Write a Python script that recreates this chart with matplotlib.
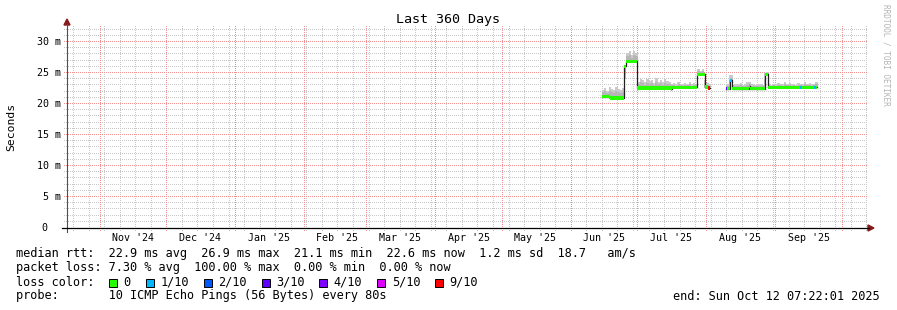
import numpy as np
import pandas as pd
import matplotlib
matplotlib.use("Agg")
import matplotlib.pyplot as plt
import matplotlib.dates as mdates
import matplotlib.transforms as mtrans
from matplotlib.lines import Line2D
from matplotlib.patches import Polygon, Rectangle

W, H = 897, 310
FONT = "DejaVu Sans Mono"

end = pd.Timestamp("2025-10-12 07:22:01")
start = end - pd.Timedelta(days=360)

# median rtt in ms, one value per segment (holds until next start), nan = no data
seg_start = ["2025-06-15 06:00", "2025-06-18 12:00", "2025-06-25 02:00", "2025-06-26 00:00",
             "2025-07-01 00:00", "2025-07-16 00:00", "2025-07-16 12:00", "2025-07-27 20:00",
             "2025-07-31 05:00", "2025-08-01 20:00", "2025-08-02 16:00", "2025-08-09 16:00",
             "2025-08-10 04:00", "2025-08-11 21:00", "2025-08-12 14:00", "2025-08-20 06:00",
             "2025-08-20 18:00", "2025-08-27 14:00", "2025-08-28 18:00", "2025-09-12 02:00",
             "2025-09-13 04:00", "2025-09-18 10:00", "2025-09-19 04:00"]
seg_end = "2025-09-19 23:00"
seg_median = [21.2, 21.0, 26.1, 26.9, 22.6, 22.4, 22.7, 24.8, 22.8, 22.6, np.nan, 22.5,
              22.5, 23.8, 22.5, 22.9, 22.5, 24.8, 22.7, 22.7, 22.7, 22.7, 22.7]
seg_loss = [0, 0, 0, 0, 0, 0, 0, 0, 0, 9, np.nan, 3, 0, 1, 0, 0, 0, 0, 0, 1, 0, 1, 0]

# top of the smoke, one value per day starting at smoke_first_day
smoke_first_day = "2025-06-15"
smoke_top = [22.3, 22.6, 22.1, 22.8, 22.4, 22.2, 22.7, 22.5, 22.3, 22.6,
             24.0, 28.2, 28.6, 27.9, 28.5, 28.3,
             23.6, 24.1, 23.8, 23.5, 24.0, 23.7, 23.9, 23.4, 24.2, 23.6, 23.8, 23.5, 24.0, 23.7, 23.6,
             23.3, 23.4, 23.2, 23.5, 23.3, 23.2, 23.4, 23.3, 23.5, 23.2, 23.4, 23.3,
             25.6, 25.4, 25.7, 23.8, 23.4, 23.2,
             np.nan, np.nan, np.nan, np.nan, np.nan, np.nan,
             23.2, 23.3, 24.7, 24.6,
             23.1, 23.3, 23.2, 23.4, 23.1, 23.2, 23.5, 23.6, 23.3, 23.2, 23.1, 23.3, 23.2, 23.1,
             25.0, 25.1,
             23.2, 23.1, 23.3, 23.2, 23.4, 23.3, 23.2, 23.5, 23.3, 23.4, 23.2, 23.3, 23.1, 23.4,
             23.3, 23.2, 23.5, 23.3, 23.4, 23.2, 23.3, 23.5]

loss_labels = ["0", "1/10", "2/10", "3/10", "4/10", "5/10", "9/10"]
loss_levels = [0, 1, 2, 3, 4, 5, 9]
loss_colors = ["#26ff00", "#00b8ff", "#0059ff", "#5e00ff", "#7e00ff", "#dd00ff", "#ff0000"]

legend_rows = ["median rtt:  22.9 ms avg  26.9 ms max  21.1 ms min  22.6 ms now  1.2 ms sd  18.7   am/s",
               "packet loss: 7.30 % avg  100.00 % max  0.00 % min  0.00 % now"]
probe_text = "probe:       10 ICMP Echo Pings (56 Bytes) every 80s"
end_text = "end: " + end.strftime("%a %b %d %H:%M:%S %Y")


def fx(x):
    return x / W


def fy(y):
    return 1 - y / H


fig = plt.figure(figsize=(W / 100, H / 100), dpi=100)
fig.patch.set_facecolor("white")
ax = fig.add_axes([fx(67), 82 / H, 800 / W, 201.5 / H])
ax.set_axis_off()
t0, t1 = mdates.date2num(start), mdates.date2num(end)
ymax = 32.5
ax.set_xlim(t0, t1)
ax.set_ylim(0, ymax)

# dotted grid, drawn as single pixels every second pixel
px_x = (t1 - t0) / 800.0
px_y = ymax / 201.5


def vgrid(xv, color, z):
    ys = np.arange(ymax - 0.5 * px_y, -3 * px_y, -2 * px_y)
    gx = np.repeat(xv, len(ys))
    gy = np.tile(ys, len(xv))
    ax.plot(gx, gy, ls="none", marker=",", color=color, clip_on=False, zorder=z)


def hgrid(yv, color, z):
    xs_ = np.arange(t0 - 3 * px_x, t1, 2 * px_x)
    gx = np.tile(xs_, len(yv))
    gy = np.repeat(yv, len(xs_))
    ax.plot(gx, gy, ls="none", marker=",", color=color, clip_on=False, zorder=z)


weeks = mdates.date2num(pd.date_range("2024-10-20", end, freq="W-SUN"))
months = mdates.date2num(pd.date_range("2024-11-01", end, freq="MS"))
minor_y = [v for v in range(1, 33) if v % 5]
major_y = [5, 10, 15, 20, 25, 30]
vgrid(weeks, "#c8c8c8", 1)
hgrid(minor_y, "#c8c8c8", 1)
vgrid(months, "#f09090", 1.1)
hgrid(major_y, "#f09090", 1.1)

# data
xs = mdates.date2num(pd.to_datetime(seg_start))
xe = np.append(xs[1:], mdates.date2num(pd.Timestamp(seg_end)))
med = np.array(seg_median)
loss = np.array(seg_loss)

# smoke
days = mdates.date2num(pd.date_range(smoke_first_day, periods=len(smoke_top), freq="D"))
top = np.array(smoke_top)
idx = np.clip(np.searchsorted(xs, days + 0.5, side="right") - 1, 0, len(med) - 1)
base = med[idx] - 0.15
ok = np.isfinite(top) & np.isfinite(base)
ax.bar(days[ok], (top - base)[ok] * 0.65, width=1.08, bottom=base[ok], align="edge",
       color="#b6b6b6", lw=0, zorder=2)
ax.bar(days[ok], (top - base)[ok] * 0.35, width=1.08, bottom=(base + (top - base) * 0.65)[ok],
       align="edge", color="#cacaca", lw=0, zorder=2)

# median line
sx = np.append(xs, xe[-1])
sy = np.append(med, med[-1])
ax.step(sx, sy, where="post", color="#202020", lw=0.9, zorder=3)

# loss coloured band around the median
good = np.isfinite(med)
cols = []
for l in loss[good]:
    k = max(i for i, lv in enumerate(loss_levels) if lv <= l)
    cols.append(loss_colors[k])
ax.bar(xs[good], 0.55, width=(xe - xs)[good], bottom=med[good] - 0.3, align="edge",
       color=cols, lw=0, zorder=4)

# axes lines and arrows
fig.add_artist(Line2D([fx(67), fx(67)], [fy(232), fy(24)], color="#505050", lw=0.8))
fig.add_artist(Line2D([fx(62), fx(869)], [fy(228), fy(228)], color="black", lw=0.9))
fig.add_artist(Polygon([[fx(67), fy(19)], [fx(64), fy(25)], [fx(70), fy(25)]],
                       closed=True, color="#8b1a1a", transform=fig.transFigure))
fig.add_artist(Polygon([[fx(874), fy(228)], [fx(868), fy(225)], [fx(868), fy(231)]],
                       closed=True, color="#8b1a1a", transform=fig.transFigure))

# tick labels
ytr = mtrans.blended_transform_factory(fig.transFigure, ax.transData)
for v in [0] + major_y:
    if v == 0:
        ax.text(fx(47), v, "0", transform=ytr, ha="right", va="center",
                family=FONT, fontsize=7.2)
    else:
        ax.text(fx(60.5), v, f"{v} m", transform=ytr, ha="right", va="center",
                family=FONT, fontsize=7.2)
xtr = mtrans.blended_transform_factory(ax.transData, fig.transFigure)
mids = pd.date_range("2024-11-01", "2025-09-01", freq="MS") + pd.Timedelta(days=15)
for m in mids:
    ax.text(mdates.date2num(m), fy(238), m.strftime("%b '%y"), transform=xtr,
            ha="center", va="center", family=FONT, fontsize=7.2)

# titles
fig.text(fx(448), fy(19), "Last 360 Days", ha="center", va="center", family=FONT, fontsize=9.6)
fig.text(fx(11), fy(127), "Seconds", rotation=90, ha="center", va="center",
         family=FONT, fontsize=8.2)
fig.text(fx(886), fy(4), "RRDTOOL / TOBI OETIKER", rotation=270, ha="center", va="top",
         family=FONT, fontsize=5.6, color="#b4b4b4")

# legend
LS = 8.55
fig.text(fx(16), fy(254), legend_rows[0], ha="left", va="center", family=FONT, fontsize=LS)
fig.text(fx(16), fy(268), legend_rows[1], ha="left", va="center", family=FONT, fontsize=LS)
fig.text(fx(16), fy(282), "loss color:", ha="left", va="center", family=FONT, fontsize=LS)
for i, (lab, c) in enumerate(zip(loss_labels, loss_colors)):
    x0 = 108.5 if i == 0 else 145.7 + (i - 1) * 57.9
    fig.add_artist(Rectangle((fx(x0), fy(287)), 8 / W, 8 / H, facecolor=c,
                             edgecolor="black", lw=0.7, transform=fig.transFigure))
    fig.text(fx(x0 + 14.5), fy(282), lab, ha="left", va="center", family=FONT, fontsize=LS)
fig.text(fx(16), fy(296), probe_text, ha="left", va="center", family=FONT, fontsize=LS)
fig.text(fx(880), fy(296), end_text, ha="right", va="center", family=FONT, fontsize=LS)

fig.savefig("out.png", dpi=100, facecolor="white")
